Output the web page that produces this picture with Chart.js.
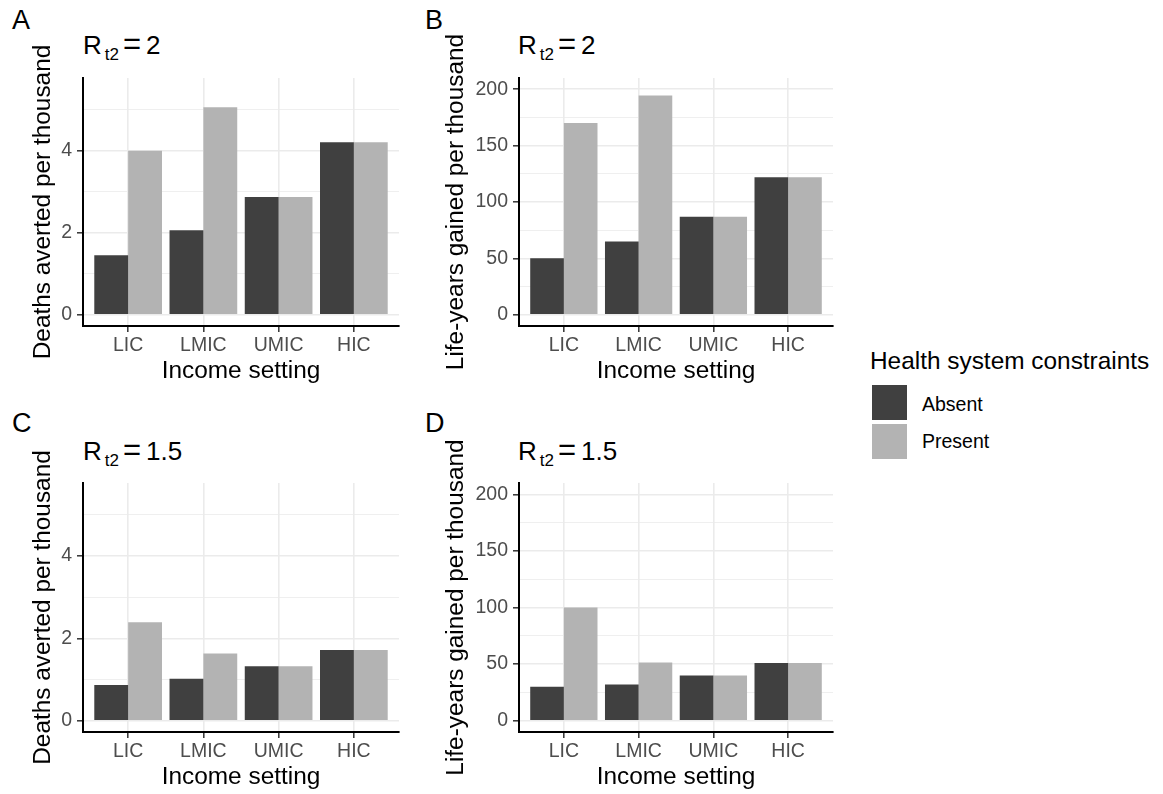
<!DOCTYPE html>
<html>
<head>
<meta charset="utf-8">
<script src="https://cdn.jsdelivr.net/npm/chart.js@4.4.1/dist/chart.umd.min.js"></script>
<style>
  body { margin: 0; background: #fff; width: 1163px; height: 794px; overflow: hidden; position: relative;
         font-family: "Liberation Sans", Arial, sans-serif; }
  canvas { position: absolute; }
  .tag { position: absolute; font-size: 27px; line-height: 27px; color: #000; }
  .ttl { position: absolute; font-size: 26px; line-height: 26px; color: #000; white-space: nowrap; }
  .ttl sub { font-size: 17px; line-height: 0; vertical-align: -6px; margin-left: 3px; margin-right: 4px; }
  .ttl .eq { font-size: 31px; line-height: 0; margin-right: 5px; }
  .leg-title { position: absolute; left: 870px; top: 348.5px; font-size: 24.4px; line-height: 24.4px; color: #000; white-space: nowrap; }
  .key { position: absolute; left: 872px; width: 35px; height: 35px; }
  .leg-lab { position: absolute; left: 922px; font-size: 19.5px; line-height: 19.5px; color: #000; }
</style>
</head>
<body>
<div class="tag" style="left:12px;top:6.5px">A</div>
<div class="tag" style="left:425px;top:6.5px">B</div>
<div class="tag" style="left:12px;top:410px">C</div>
<div class="tag" style="left:425px;top:410px">D</div>

<div class="ttl" style="left:83px;top:32.3px">R<sub>t2</sub><span class="eq">=</span>2</div>
<div class="ttl" style="left:518px;top:32.3px">R<sub>t2</sub><span class="eq">=</span>2</div>
<div class="ttl" style="left:83px;top:438px">R<sub>t2</sub><span class="eq">=</span>1.5</div>
<div class="ttl" style="left:518px;top:438px">R<sub>t2</sub><span class="eq">=</span>1.5</div>

<canvas id="chartA" width="415" height="400" style="left:0;top:0"></canvas>
<canvas id="chartB" width="425" height="400" style="left:420px;top:0"></canvas>
<canvas id="chartC" width="415" height="394" style="left:0;top:400px"></canvas>
<canvas id="chartD" width="425" height="394" style="left:420px;top:400px"></canvas>

<div class="leg-title">Health system constraints</div>
<div class="key" style="top:385px;background:#404040"></div>
<div class="key" style="top:423.5px;background:#b3b3b3"></div>
<div class="leg-lab" style="top:394.5px">Absent</div>
<div class="leg-lab" style="top:431.8px">Present</div>

<script>
const incomeSettings = ['LIC', 'LMIC', 'UMIC', 'HIC'];
const seriesNames = ['Absent', 'Present'];

// R_t2 = 2
const deathsAbsentR2 = [1.45, 2.06, 2.87, 4.21];
const deathsPresentR2 = [4.0, 5.06, 2.87, 4.21];
const lifeYearsAbsentR2 = [50, 65, 87, 122];
const lifeYearsPresentR2 = [170, 194.5, 87, 122];

// R_t2 = 1.5
const deathsAbsentR15 = [0.87, 1.02, 1.32, 1.72];
const deathsPresentR15 = [2.39, 1.63, 1.32, 1.72];
const lifeYearsAbsentR15 = [30, 32, 40, 51];
const lifeYearsPresentR15 = [100, 51.5, 40, 51];

// y ticks (every one gets a grid line, only the labelled ones get a tick mark)
const deathTicks = [0, 1, 2, 3, 4, 5];
const deathLabels = [0, 2, 4];
const lifeYearTicks = [0, 25, 50, 75, 100, 125, 150, 175, 200];
const lifeYearLabels = [0, 50, 100, 150, 200];

const FONT = '"Liberation Sans", Arial, sans-serif';
const COLORS = ['#404040', '#b3b3b3'];
const GRID = '#ebebeb';

function makePanel(id, p) {
  const ctx = document.getElementById(id).getContext('2d');
  const canvasH = ctx.canvas.height;
  const xH = canvasH - p.area.bottom;
  const titleLH = 24.4 * 1.2;
  const isMajor = v => p.labels.includes(v);
  return new Chart(ctx, {
    type: 'bar',
    data: {
      datasets: [p.absent, p.present].map((vals, i) => ({
        label: seriesNames[i],
        backgroundColor: COLORS[i],
        data: vals.map((v, j) => ({ x: j + 1, y: v })),
        categoryPercentage: 0.9,
        barPercentage: 1.0
      }))
    },
    options: {
      responsive: false,
      animation: false,
      events: [],
      layout: { padding: { top: p.area.top, right: ctx.canvas.width - p.area.right, left: 0, bottom: 0 } },
      plugins: { legend: { display: false }, tooltip: { enabled: false } },
      scales: {
        x: {
          type: 'linear',
          offset: false,
          min: 0.4, max: 4.6,
          afterBuildTicks: s => { s.ticks = incomeSettings.map((c, i) => ({ value: i + 1 })); },
          afterFit: s => { s.height = xH; },
          border: { display: true, color: '#000', width: 2 },
          grid: { offset: false, color: GRID, lineWidth: 1.6, tickColor: '#333', tickLength: 6, tickWidth: 1.5 },
          ticks: {
            autoSkip: false, maxRotation: 0, padding: 1.5, color: '#4d4d4d',
            font: { family: FONT, size: 19.5 },
            callback: v => incomeSettings[v - 1]
          },
          title: {
            display: true, text: 'Income setting', color: '#000',
            font: { family: FONT, size: 24.4 },
            padding: { top: 0, bottom: xH - 54 + 8.45 - titleLH / 2 }
          }
        },
        y: {
          min: p.min, max: p.max,
          afterBuildTicks: s => { s.ticks = p.ticks.map(v => ({ value: v })); },
          afterFit: s => { s.width = p.area.left; },
          border: { display: true, color: '#000', width: 2 },
          grid: {
            color: GRID,
            lineWidth: c => isMajor(c.tick.value) ? 1.6 : 0.8,
            tickColor: c => isMajor(c.tick.value) ? '#333' : 'rgba(0,0,0,0)',
            tickLength: 6, tickWidth: 1.5
          },
          ticks: {
            autoSkip: false, padding: 5, color: '#4d4d4d',
            font: { family: FONT, size: 19.5 },
            callback: v => isMajor(v) ? String(v) : ''
          },
          title: {
            display: true, text: p.yTitle, color: '#000',
            font: { family: FONT, size: 24.4 },
            padding: { top: p.yTitleCenter - titleLH / 2, bottom: 0 }
          }
        }
      }
    }
  });
}

const deathsRange = { min: -0.275, max: 5.775, ticks: deathTicks, labels: deathLabels, yTitle: 'Deaths averted per thousand', yTitleCenter: 43 };
const lifeRange = { min: -10, max: 210, ticks: lifeYearTicks, labels: lifeYearLabels, yTitle: 'Life-years gained per thousand', yTitleCenter: 36.5 };

makePanel('chartA', Object.assign({}, deathsRange, {
  area: { left: 83, right: 399, top: 78, bottom: 326 }, absent: deathsAbsentR2, present: deathsPresentR2 }));
makePanel('chartB', Object.assign({}, lifeRange, {
  area: { left: 99, right: 413, top: 78, bottom: 326 }, absent: lifeYearsAbsentR2, present: lifeYearsPresentR2 }));
makePanel('chartC', Object.assign({}, deathsRange, {
  area: { left: 83, right: 399, top: 83, bottom: 332 }, absent: deathsAbsentR15, present: deathsPresentR15 }));
makePanel('chartD', Object.assign({}, lifeRange, {
  area: { left: 99, right: 413, top: 83, bottom: 332 }, absent: lifeYearsAbsentR15, present: lifeYearsPresentR15 }));
</script>
</body>
</html>
